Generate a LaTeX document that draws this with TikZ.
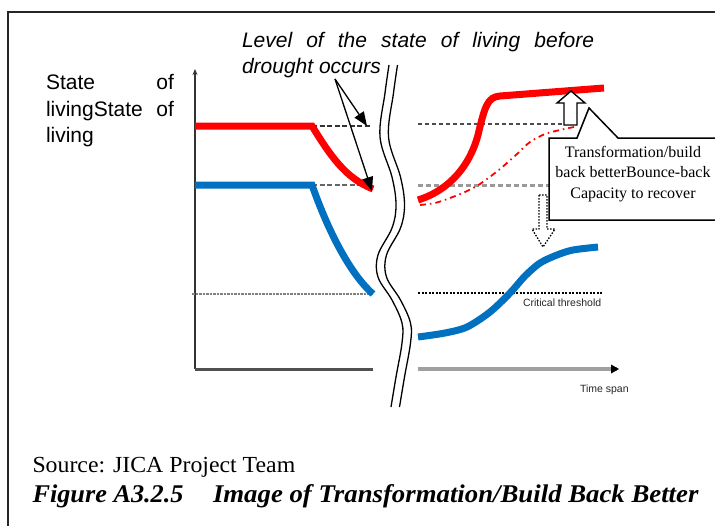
\documentclass[tikz,border=0pt]{standalone}
\usepackage{fontspec}
\setmainfont{Liberation Serif}
\newfontfamily\arialfont{Liberation Sans}
\usetikzlibrary{arrows.meta}
\definecolor{lineRed}{RGB}{255,0,0}
\definecolor{lineBlue}{RGB}{0,112,192}
\definecolor{axisDark}{RGB}{80,80,80}
\definecolor{axisLight}{RGB}{160,160,160}

\tikzset{
  txt/.style={inner sep=0pt, outer sep=0pt},
  sanslabel/.style={txt, font=\arialfont\fontsize{21}{26}\selectfont},
  tinylabel/.style={txt, font=\arialfont\fontsize{10.5}{12}\selectfont, text=black!85},
  captiontext/.style={txt, anchor=base west, font=\fontsize{25.5}{30}\selectfont\bfseries\itshape},
  redline/.style={draw=lineRed, line width=7pt},
  blueline/.style={draw=lineBlue, line width=7pt},
  darkdash/.style={draw=black!80, line width=2.2pt, dash pattern=on 5pt off 2.5pt},
  greydash/.style={draw=black!60, line width=2.2pt, dash pattern=on 5pt off 2.5pt},
  thindash/.style={draw=black!70, line width=1.4pt, dash pattern=on 4pt off 3pt},
  lightdash/.style={draw=black!40, line width=3pt, dash pattern=on 5pt off 3pt},
  dotline/.style={draw=black!50, line width=1.8pt, dash pattern=on 2.5pt off 1pt},
  blackdot/.style={draw=black, line width=1.6pt, dash pattern=on 2pt off 1.5pt},
  pointer/.style={draw=black, line width=1.3pt, -{Triangle[length=14pt,width=11pt]}},
  wave/.style={draw=black, line width=1.3pt},
}

\begin{document}
\begin{tikzpicture}[x=1pt, y=-1pt]
\useasboundingbox (0,0) rectangle (715,525);
\fill[white] (0,0) rectangle (715,525);

% outer frame
\draw[black!85, line width=2pt] (8,530) -- (8,12) -- (720,12);

% axis label
\node[sanslabel, anchor=base west] (yl1) at (46,89) {\makebox[128pt][s]{State of}};
\node[sanslabel, anchor=base west] (yl2) at (46,116) {\makebox[128pt][s]{livingState of}};
\node[sanslabel, anchor=base west] (yl3) at (46,142) {living};

% heading of the before-drought level
\node[sanslabel, anchor=base west] (lv1) at (242,47) {\itshape\makebox[352pt][s]{Level of the state of living before}};
\node[sanslabel, anchor=base west] (lv2) at (242,73) {\itshape drought occurs};

% axes
\coordinate (o) at (195,369);
\coordinate (ytop) at (195,69);
\coordinate (xbreakL) at (373,369);
\coordinate (xstartR) at (418,369);
\coordinate (xend) at (617,369);
\draw[black!80, line width=2pt, -{Stealth[length=6pt,width=5pt]}] (o) -- (ytop);
\draw[axisDark, line width=3pt] (o) -- (xbreakL);
\draw[axisLight, line width=3.5pt] (xstartR) -- (xend);
\fill[black] (xend) ++(-6,-4.5) -- ++(8,4.5) -- ++(-8,4.5) -- cycle;

% reference levels (left part)
\draw[darkdash] (312,126) -- (370,126);
\draw[greydash] (312,185) -- (370,185);
\draw[dotline] (192,294) -- (373,294);

% state of living before and during drought
\coordinate (rdrop) at (373,189);
\draw[redline] (195,126) -- (312,126) .. controls (330,155) and (345,178) .. (rdrop);
\draw[blueline] (195,185) -- (312,185) .. controls (326,225) and (348,272) .. (373,294);

% pointers from the heading
\coordinate (lvfoot) at (335,79);
\coordinate (lvtopA) at (367,126);
\coordinate (lvtopB) at (372,191);
\draw[pointer] (lvfoot) -- (lvtopA);
\draw[pointer] (lvfoot) -- (lvtopB);

% time break
\draw[wave] plot[smooth, tension=0.6] coordinates {(389,65) (385,93) (380,137) (392,177) (396,205) (392,228) (378,255) (378,277) (392,300) (402,323) (402,343) (396,377) (391,407)};
\draw[wave] plot[smooth, tension=0.6] coordinates {(397.5,65) (393.5,93) (388.5,137) (400.5,177) (404.5,205) (400.5,228) (386.5,255) (386.5,277) (400.5,300) (410.5,323) (410.5,343) (404.5,377) (399.5,407)};

% reference levels (right part)
\draw[thindash] (418,124) -- (573,124);
\draw[lightdash] (418,185) -- (549,185);
\draw[blackdot] (418,293) -- (602,293);
\node[tinylabel, anchor=west] (crit) at (523,303) {Critical threshold};
\node[tinylabel, anchor=west] (tspan) at (580,390) {Time span};

% recovery paths
\draw[lineRed, line width=1.8pt, dash pattern=on 6pt off 4pt on 1.5pt off 4pt] plot[smooth] coordinates {(420,205) (435,203) (450,198) (465,192) (480,184) (500,169) (517,154) (530,142) (545,134) (560,130) (574,127)};
\draw[redline] (418,200) .. controls (450,190) and (470,165) .. (478,135) .. controls (485,105) and (488,97) .. (500,96) -- (604,88);
\draw[blueline] plot[smooth] coordinates {(418,337) (445,333) (467,327) (490,312) (510,293) (525,276) (540,263) (557,255) (573,250) (598,247)};

% upward hollow arrow
\draw[fill=white, line width=1.4pt, line join=miter] (564,125) -- (564,103) -- (557,103) -- (571,91) -- (585,103) -- (577,103) -- (577,125) -- cycle;

% downward dotted hollow arrow
\draw[black, line width=1.3pt, dash pattern=on 1.5pt off 1.5pt] (539,195) -- (539,229) -- (532,229) -- (543,247) -- (555,229) -- (547,229) -- (547,195) -- cycle;

% callout
\draw[fill=white, line width=1.5pt, line join=miter] (549,138) -- (577,138) -- (589,108) -- (618,138) -- (725,138) -- (725,220) -- (549,220) -- cycle;
\node[txt, font=\fontsize{16}{20.5}\selectfont, align=center, anchor=base] (callout) at (633,198)
  {Transformation/build\\back betterBounce-back\\Capacity to recover};

% caption
\node[txt, anchor=base west, font=\fontsize{23}{27}\selectfont] (src) at (32.5,472) {\scalebox{1.035}[1]{Source: JICA Project Team}};
\node[captiontext] (capnum) at (32.5,502) {\scalebox{1.03}[1]{Figure A3.2.5}};
\node[captiontext] (captitle) at (213,502) {\scalebox{1.05}[1]{Image of Transformation/Build Back Better}};
\end{tikzpicture}
\end{document}
